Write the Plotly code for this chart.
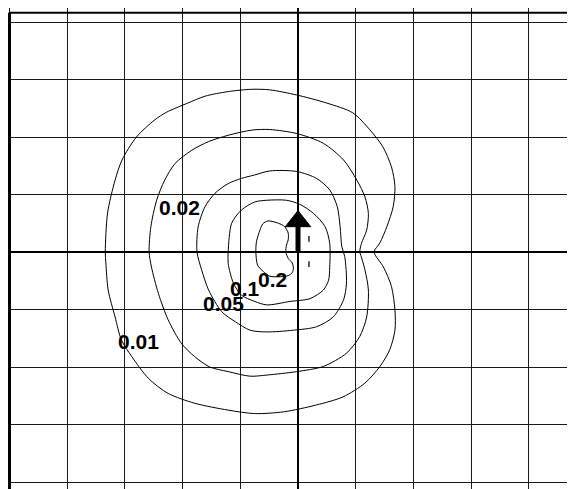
import plotly.graph_objects as go

# Contour levels and their traced outlines (grid units, origin at the arrow base)
levels = ["0.01", "0.02", "0.05", "0.1", "0.2"]

c001_x = [1.32, 1.42, 1.54, 1.65, 1.68, 1.62, 1.47, 1.25, 0.95, 0.50, -0.02, -0.49, -0.80, -1.21, -1.61, -1.91,
          -2.28, -2.48, -2.80, -3.05, -3.17, -3.30, -3.34, -3.33, -3.29, -3.17, -3.06, -2.88, -2.59, -2.25, -1.79,
          -1.21, -0.75, -0.25, 0.32, 0.78, 1.16, 1.42, 1.59, 1.68, 1.68, 1.62, 1.48, 1.32]
c001_y = [0.00, 0.16, 0.44, 0.79, 1.14, 1.48, 1.83, 2.12, 2.42, 2.59, 2.73, 2.82, 2.83, 2.79, 2.71, 2.59,
          2.43, 2.30, 2.00, 1.60, 1.25, 0.68, 0.00, -0.19, -0.66, -1.13, -1.53, -1.82, -2.20, -2.46, -2.63,
          -2.75, -2.81, -2.78, -2.66, -2.52, -2.28, -1.99, -1.70, -1.36, -1.01, -0.60, -0.26, 0.00]

c002_x = [1.07, 1.10, 1.19, 1.22, 1.16, 1.02, 0.79, 0.44, -0.02, -0.49, -0.80, -1.21, -1.55, -1.84, -2.13, -2.31,
          -2.45, -2.55, -2.58, -2.54, -2.42, -2.25, -2.02, -1.79, -1.53, -1.21, -0.83, -0.54, -0.02, 0.44, 0.84,
          1.07, 1.19, 1.22, 1.16, 1.09, 1.07]
c002_y = [0.00, 0.15, 0.38, 0.67, 0.96, 1.25, 1.60, 1.89, 2.06, 2.13, 2.12, 2.03, 1.92, 1.77, 1.54, 1.25,
          0.90, 0.44, 0.00, -0.26, -0.72, -1.18, -1.59, -1.82, -2.00, -2.08, -2.16, -2.14, -2.08, -1.99, -1.76,
          -1.47, -1.13, -0.66, -0.31, -0.06, 0.00]

c005_x = [-1.75, -1.73, -1.61, -1.44, -1.21, -0.98, -0.75, -0.49, -0.02, 0.32, 0.55, 0.68, 0.73, 0.76, 0.81,
          0.84, 0.79, 0.61, 0.32, -0.08, -0.54, -0.83, -1.09, -1.32, -1.55, -1.67, -1.75]
c005_y = [0.00, 0.44, 0.79, 1.02, 1.19, 1.28, 1.34, 1.41, 1.40, 1.28, 1.08, 0.79, 0.44, 0.09, -0.08,
          -0.54, -0.83, -1.13, -1.30, -1.36, -1.39, -1.36, -1.21, -1.04, -0.66, -0.31, 0.00]

c01_x = [-1.21, -1.15, -0.98, -0.75, -0.54, -0.20, 0.03, 0.27, 0.47, 0.55, 0.55, 0.53, 0.44, 0.21, -0.14,
         -0.54, -0.75, -0.98, -1.12, -1.21, -1.21]
c01_y = [0.00, 0.50, 0.73, 0.87, 0.90, 0.90, 0.83, 0.67, 0.44, 0.15, -0.26, -0.49, -0.66, -0.81, -0.86,
         -0.92, -0.86, -0.75, -0.54, -0.20, 0.00]

c02_x = [-0.73, -0.72, -0.66, -0.61, -0.52, -0.34, -0.23, -0.17, -0.17, -0.20, -0.21, -0.17, -0.10, -0.08,
         -0.10, -0.17, -0.31, -0.49, -0.60, -0.70, -0.73]
c02_y = [0.00, 0.18, 0.38, 0.49, 0.54, 0.50, 0.44, 0.33, 0.21, 0.12, 0.00, -0.11, -0.19, -0.28,
         -0.36, -0.41, -0.43, -0.42, -0.34, -0.23, 0.00]

# Label positions for each level
label_x = [-2.77, -2.05, -1.29, -0.92, -0.44]
label_y = [-1.56, 0.77, -0.89, -0.63, -0.48]

# Arrow (vector from origin)
arrow_tip_y = 0.72
arrow_head_base_y = 0.44
arrow_head_half_w = 0.22

# Small dashes to the right of the arrow
dash_x = [0.19, 0.19, None, 0.19, 0.19]
dash_y = [0.28, 0.18, None, -0.16, -0.26]

contours = [(c001_x, c001_y), (c002_x, c002_y), (c005_x, c005_y), (c01_x, c01_y), (c02_x, c02_y)]

fig = go.Figure()
for (cx, cy) in contours:
    fig.add_trace(go.Scatter(x=cx, y=cy, mode="lines",
                             line=dict(color="black", width=1, shape="spline", smoothing=0.8),
                             hoverinfo="skip", showlegend=False))

fig.add_trace(go.Scatter(x=dash_x, y=dash_y, mode="lines",
                         line=dict(color="#222", width=1.5), hoverinfo="skip", showlegend=False))

for lab, lx, ly in zip(levels, label_x, label_y):
    fig.add_annotation(x=lx, y=ly, text=lab, showarrow=False, xanchor="center", yanchor="middle",
                       font=dict(family="Liberation Sans, Arial, sans-serif", size=21, color="black",
                                 weight="bold"))

# Arrow shaft and head
fig.add_shape(type="line", x0=0, y0=0, x1=0, y1=arrow_head_base_y + 0.05,
              line=dict(color="black", width=5), layer="above")
fig.add_shape(type="path",
              path=f"M {-arrow_head_half_w},{arrow_head_base_y} L {arrow_head_half_w},{arrow_head_base_y} L 0,{arrow_tip_y} Z",
              fillcolor="black", line=dict(color="black", width=1), layer="above")

# Axis window (grid units) — the page body adds an 8px offset
x0r = -290 / 57.7
x1r = x0r + 575 / 57.7
y1r = 244 / 57.5
y0r = y1r - 489 / 57.5

# Borders (left and top)
fig.add_shape(type="line", x0=-5, x1=-5, y0=y0r - 0.1, y1=4.16, line=dict(color="black", width=3), layer="above")
fig.add_shape(type="line", x0=-5, x1=x1r + 0.1, y0=4.16, y1=4.16, line=dict(color="black", width=2), layer="above")

axis_common = dict(showgrid=True, gridcolor="#1a1a1a", gridwidth=1, dtick=1, tick0=0,
                   zeroline=True, zerolinecolor="black", zerolinewidth=2,
                   showticklabels=False, ticks="", showline=False, fixedrange=True)

fig.update_layout(
    width=575, height=489, autosize=False,
    margin=dict(l=0, r=0, t=0, b=0),
    paper_bgcolor="white", plot_bgcolor="white",
    xaxis=dict(range=[x0r, x1r], **axis_common),
    yaxis=dict(range=[y0r, y1r], **axis_common),
    showlegend=False,
)

fig.write_html("out.html")
